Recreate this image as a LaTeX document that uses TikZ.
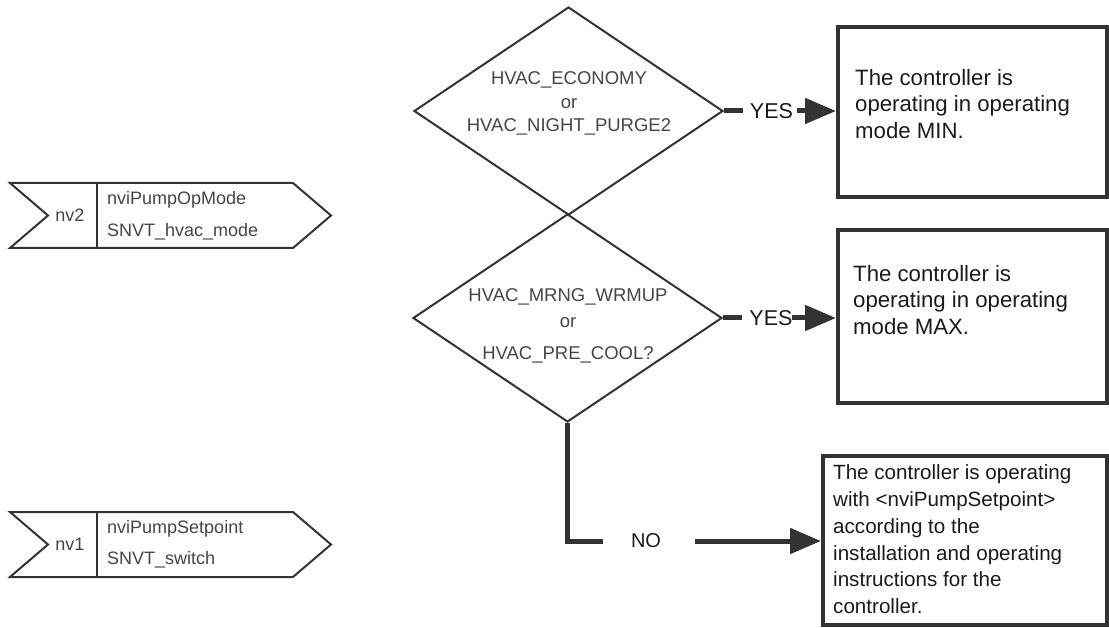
\documentclass[tikz,border=0pt]{standalone}
\usepackage{fontspec}
\setmainfont{Liberation Sans}
\usetikzlibrary{shapes.geometric,arrows.meta}
\definecolor{ln}{HTML}{333333}
\definecolor{dtx}{HTML}{454545}
\definecolor{btx}{HTML}{1A1A1A}
\begin{document}
\begin{tikzpicture}[x=1pt,y=-1pt,
  box/.style={draw=ln,line width=4pt,rectangle,inner sep=0pt},
  dia/.style={draw=ln,line width=2pt,diamond,inner sep=0pt},
  conn/.style={draw=ln,line width=5pt},
  arr/.style={conn,-{Triangle[length=31pt,width=25pt]}},
  inarrow/.style={draw=ln,line width=2pt,line join=miter},
  boxtext/.style={anchor=north west,align=left,inner sep=0pt,text=btx,font=\fontsize{22.2}{26.6}\selectfont},
  diatext/.style={align=center,inner sep=0pt,text=dtx,font=\fontsize{18.5}{23.5}\selectfont},
  intext/.style={inner sep=0pt,text=dtx,font=\fontsize{18}{22}\selectfont},
  lbl/.style={inner sep=0pt,text=btx,font=\fontsize{21.5}{26}\selectfont}
]
\useasboundingbox (0,0) rectangle (1109,628);

% input arrows
\draw[inarrow] (10,183) -- (293,183) -- (331,215.5) -- (293,248) -- (10,248) -- (48,215.5) -- cycle;
\draw[inarrow] (97,183) -- (97,248);
\node[intext] (nv2) at (70,215.5) {nv2};
\node[intext,anchor=west] (op) at (107,200) {nviPumpOpMode};
\node[intext,anchor=west] (opt) at (107,232) {SNVT\_hvac\_mode};

\draw[inarrow] (10,512) -- (293,512) -- (331,544.5) -- (293,577) -- (10,577) -- (48,544.5) -- cycle;
\draw[inarrow] (97,512) -- (97,577);
\node[intext] (nv1) at (70,544.5) {nv1};
\node[intext,anchor=west] (sp) at (107,529) {nviPumpSetpoint};
\node[intext,anchor=west] (spt) at (107,560) {SNVT\_switch};

% diamonds
\node[dia,minimum width=309pt,minimum height=208pt] (d1) at (568.5,111) {};
\node[dia,minimum width=309pt,minimum height=208pt] (d2) at (567.5,318) {};
\node[diatext] (d1t) at (569,103.5) {HVAC\_ECONOMY\\or\hspace*{14pt}\\HVAC\_NIGHT\_PURGE2};
\node[diatext,anchor=north] (d2t) at (568,288) {HVAC\_MRNG\_WRMUP\\[3pt]or\hspace*{22pt}\\[8pt]HVAC\_PRE\_COOL?};

% boxes
\node[box,minimum width=269pt,minimum height=170pt] (b1) at (972.5,112) {};
\node[box,minimum width=269pt,minimum height=173pt] (b2) at (972.5,316.5) {};
\node[box,minimum width=284pt,minimum height=169pt] (b3) at (965,540.5) {};
\node[boxtext] (b1t) at (855,69) {The controller is\\operating in operating\\mode MIN.};
\node[boxtext] (b2t) at (853,265) {The controller is\\operating in operating\\mode MAX.};
\node[boxtext,font=\fontsize{20.6}{26.8}\selectfont] (b3t) at (833,464.5) {The controller is operating\\with <nviPumpSetpoint>\\according to the\\installation and operating\\instructions for the\\controller.};

% YES 1
\coordinate (y1a) at (743,111);
\coordinate (y1b) at (797,111);
\draw[conn] (d1.east) -- (y1a);
\node[lbl] (yes1) at (771.5,111) {YES};
\draw[arr] (y1b) -- (y1b -| b1.west);

% YES 2
\coordinate (y2a) at (742,318);
\coordinate (y2b) at (792,318);
\draw[conn] (d2.east) -- (y2a);
\node[lbl] (yes2) at (771,318) {YES};
\draw[arr] (y2b) -- (y2b -| b2.west);

% NO
\coordinate (n1) at (603,541);
\coordinate (n2) at (695,541);
\draw[conn,line join=miter] (d2.south) |- (n1);
\node[lbl,font=\fontsize{20}{24}\selectfont] (no) at (646,541) {NO};
\draw[arr] (n2) -- (n2 -| b3.west);
\end{tikzpicture}
\end{document}
